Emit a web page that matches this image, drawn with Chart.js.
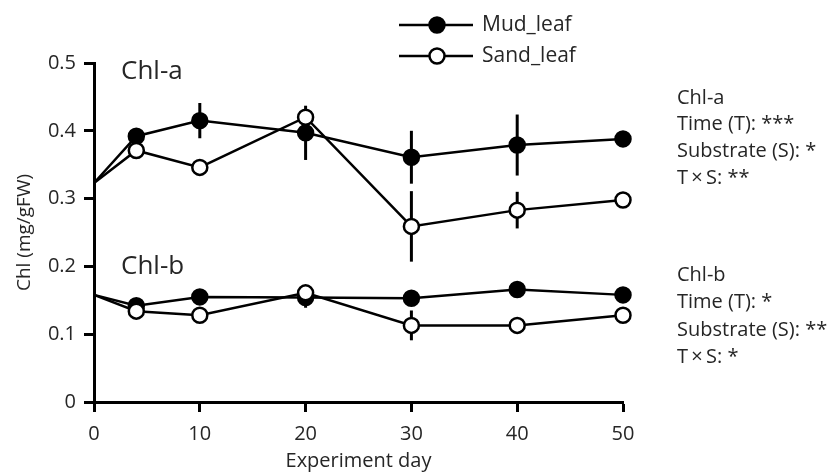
<!DOCTYPE html>
<html>
<head>
<meta charset="utf-8">
<script src="https://cdn.jsdelivr.net/npm/chart.js@4.4.1/dist/chart.umd.min.js"></script>
<style>
  html, body { margin: 0; padding: 0; background: #fff; }
  #wrap { width: 835px; height: 473px; }
</style>
</head>
<body>
<div id="wrap"><canvas id="chlChart" width="835" height="473"></canvas></div>
<script>
// ------------------- DATOS -------------------
const days = [0, 4, 10, 20, 30, 40, 50];

// Chl-a
const mudChlA = [0.323, 0.392, 0.415, 0.397, 0.361, 0.379, 0.388];
const mudChlAErr = [0, 0.008, 0.026, 0.04, 0.039, 0.045, 0.008];
const sandChlA = [0.323, 0.371, 0.346, 0.420, 0.259, 0.283, 0.298];
const sandChlAErr = [0, 0.006, 0.006, 0.01, 0.052, 0.027, 0.008];

// Chl-b
const mudChlB = [0.158, 0.142, 0.155, 0.154, 0.153, 0.166, 0.158];
const mudChlBErr = [0, 0.005, 0.006, 0.015, 0.008, 0.006, 0.005];
const sandChlB = [0.158, 0.134, 0.128, 0.161, 0.113, 0.113, 0.128];
const sandChlBErr = [0, 0.005, 0.005, 0.006, 0.022, 0.009, 0.005];

const yTicks = [0, 0.1, 0.2, 0.3, 0.4, 0.5];
const xTicks = [0, 10, 20, 30, 40, 50];

const seriesNames = ['Mud_leaf', 'Sand_leaf'];
const statsChlA = ['Chl-a', 'Time (T): ***', 'Substrate (S): *', 'T\u2009\u00D7\u2009S: **'];
const statsChlB = ['Chl-b', 'Time (T): *', 'Substrate (S): **', 'T\u2009\u00D7\u2009S: *'];

const FONT = '"Open Sans", "Noto Sans", sans-serif';
const TEXT = '#262626';

// ------------------- FUNCIONES -------------------

function toPoints(values) {
    return values.map((v, i) => ({ x: days[i], y: v }));
}

function makeDataset(label, values, errors, filled, order) {
    return {
        label,
        data: toPoints(values),
        errors,
        borderColor: '#000',
        borderWidth: 2.5,
        pointRadius: days.map(d => d === 0 ? 0 : 7.5),
        pointHoverRadius: days.map(d => d === 0 ? 0 : 7.5),
        pointBackgroundColor: filled ? '#000' : '#fff',
        pointBorderColor: '#000',
        pointBorderWidth: 2.5,
        tension: 0,
        clip: false,
        order
    };
}

// Barras de error verticales, dibujadas debajo de los marcadores
const errorBarsPlugin = {
    id: 'errorBars',
    beforeDatasetsDraw(chart) {
        const { ctx, scales: { x, y } } = chart;
        ctx.save();
        ctx.strokeStyle = '#000';
        ctx.lineWidth = 3;
        chart.data.datasets.forEach(ds => {
            ds.data.forEach((p, i) => {
                const e = ds.errors[i];
                if (!e) return;
                const px = x.getPixelForValue(p.x);
                ctx.beginPath();
                ctx.moveTo(px, y.getPixelForValue(p.y + e));
                ctx.lineTo(px, y.getPixelForValue(p.y - e));
                ctx.stroke();
            });
        });
        ctx.restore();
    }
};

// Leyenda, etiquetas Chl-a / Chl-b y texto de estadísticas
const annotationsPlugin = {
    id: 'annotations',
    afterDraw(chart) {
        const { ctx, chartArea } = chart;
        ctx.save();

        // leyenda
        const legendY = [25, 56];
        seriesNames.forEach((name, i) => {
            const yy = legendY[i];
            ctx.strokeStyle = '#000';
            ctx.lineWidth = 2.5;
            ctx.beginPath();
            ctx.moveTo(399, yy);
            ctx.lineTo(473, yy);
            ctx.stroke();
            ctx.beginPath();
            ctx.arc(437, yy, 7.5, 0, Math.PI * 2);
            ctx.fillStyle = i === 0 ? '#000' : '#fff';
            ctx.fill();
            ctx.stroke();
            ctx.fillStyle = TEXT;
            ctx.font = '21px ' + FONT;
            ctx.textAlign = 'left';
            ctx.textBaseline = 'middle';
            ctx.fillText(name, 482, yy);
        });

        // etiquetas dentro del gráfico
        ctx.font = '26px ' + FONT;
        ctx.fillStyle = TEXT;
        ctx.fillText('Chl-a', chartArea.left + 27, 72);
        ctx.fillText('Chl-b', chartArea.left + 27, 267);

        // estadísticas a la derecha
        ctx.font = '20px ' + FONT;
        statsChlA.forEach((t, i) => ctx.fillText(t, 677, 98 + i * 26.7));
        statsChlB.forEach((t, i) => ctx.fillText(t, 677, 275 + i * 27.5));

        ctx.restore();
    }
};

// ------------------- GRÁFICO -------------------

const ctx = document.getElementById('chlChart').getContext('2d');

new Chart(ctx, {
    type: 'line',
    data: {
        datasets: [
            makeDataset('Mud_leaf Chl-a', mudChlA, mudChlAErr, true, 1),
            makeDataset('Sand_leaf Chl-a', sandChlA, sandChlAErr, false, 0),
            makeDataset('Mud_leaf Chl-b', mudChlB, mudChlBErr, true, 1),
            makeDataset('Sand_leaf Chl-b', sandChlB, sandChlBErr, false, 0)
        ]
    },
    options: {
        responsive: false,
        animation: false,
        layout: { padding: { top: 63, right: 212, bottom: 0, left: 0 } },
        plugins: {
            legend: { display: false },
            tooltip: { enabled: false }
        },
        scales: {
            x: {
                type: 'linear',
                min: 0,
                max: 50,
                afterFit: s => { s.height = 71; },
                afterBuildTicks: s => { s.ticks = xTicks.map(v => ({ value: v })); },
                ticks: { color: TEXT, font: { family: FONT, size: 20 }, padding: 10 },
                grid: { drawOnChartArea: false, drawTicks: true, tickLength: 10, tickWidth: 3, tickColor: '#000' },
                border: { display: true, color: '#000', width: 3 },
                title: {
                    display: true,
                    text: 'Experiment day',
                    color: TEXT,
                    font: { family: FONT, size: 20 },
                    padding: { top: 0, bottom: 0 }
                }
            },
            y: {
                min: 0,
                max: 0.5,
                afterFit: s => { s.width = 94; },
                afterBuildTicks: s => { s.ticks = yTicks.map(v => ({ value: v })); },
                ticks: {
                    color: TEXT,
                    font: { family: FONT, size: 20 },
                    padding: 8,
                    callback: v => v === 0 ? '0' : v.toFixed(1)
                },
                grid: { drawOnChartArea: false, drawTicks: true, tickLength: 10, tickWidth: 3, tickColor: '#000' },
                border: { display: true, color: '#000', width: 3 },
                title: {
                    display: true,
                    text: 'Chl (mg/gFW)',
                    color: TEXT,
                    font: { family: FONT, size: 19 },
                    padding: { top: 13, bottom: 0 }
                }
            }
        }
    },
    plugins: [errorBarsPlugin, annotationsPlugin]
});
</script>
</body>
</html>
